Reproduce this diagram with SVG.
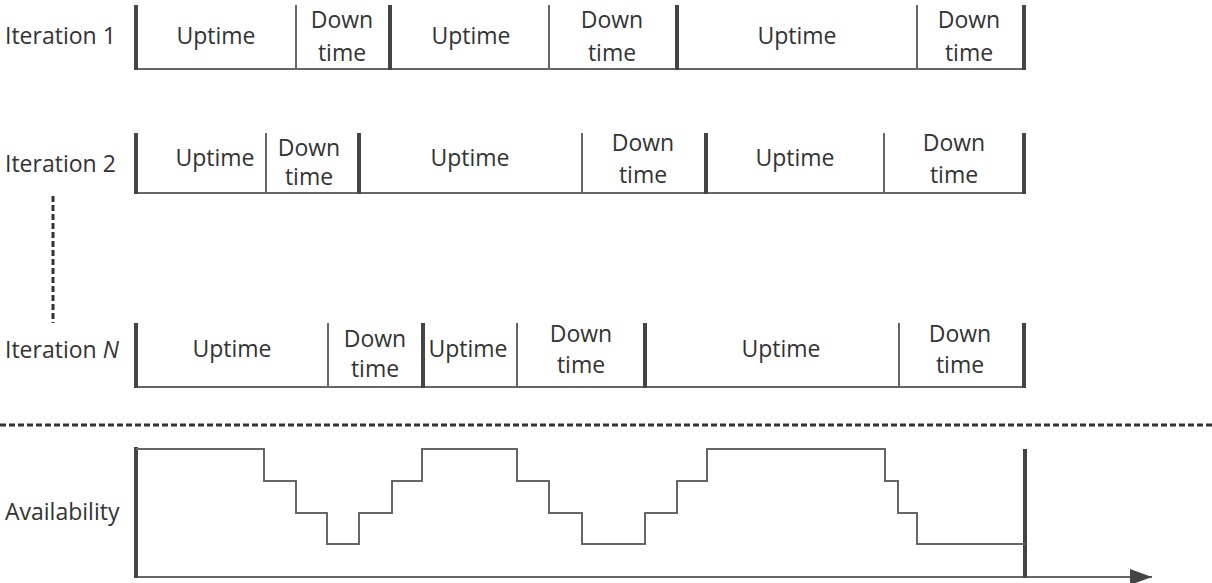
<svg xmlns="http://www.w3.org/2000/svg" width="1212" height="583" viewBox="0 0 1212 583">
  <style>
    text { font-family: "Open Sans", "Liberation Sans", sans-serif; font-size: 23px; fill: #333333; }
    .c { text-anchor: middle; }
    .thick { stroke: #444444; stroke-width: 4; fill: none; }
    .thin { stroke: #666666; stroke-width: 2; fill: none; }
    .dash { stroke: #333333; stroke-width: 3; stroke-dasharray: 6 3; fill: none; }
  </style>
  <defs>
    <marker id="arrow" markerWidth="22" markerHeight="16" refX="22" refY="8" orient="auto" markerUnits="userSpaceOnUse">
      <path d="M0,0 L22,8 L0,16 Z" fill="#444444"/>
    </marker>
  </defs>
  <rect width="1212" height="583" fill="#ffffff"/>

  <!-- Iteration 1 timeline -->
  <g id="iteration-1">
    <text x="5" y="44">Iteration 1</text>
    <line class="thin" x1="136" y1="69" x2="1025" y2="69"/>
    <line class="thick" x1="136" y1="5" x2="136" y2="70"/>
    <line class="thin" x1="296" y1="5" x2="296" y2="69"/>
    <line class="thick" x1="390" y1="5" x2="390" y2="70"/>
    <line class="thin" x1="549" y1="5" x2="549" y2="69"/>
    <line class="thick" x1="677" y1="5" x2="677" y2="70"/>
    <line class="thin" x1="917" y1="5" x2="917" y2="69"/>
    <line class="thick" x1="1024" y1="5" x2="1024" y2="70"/>
    <text class="c" x="216" y="44">Uptime</text>
    <text class="c" x="342" y="28">Down</text>
    <text class="c" x="342" y="61">time</text>
    <text class="c" x="471" y="44">Uptime</text>
    <text class="c" x="612" y="28">Down</text>
    <text class="c" x="612" y="61">time</text>
    <text class="c" x="797" y="44">Uptime</text>
    <text class="c" x="969" y="28">Down</text>
    <text class="c" x="969" y="61">time</text>
  </g>

  <!-- Iteration 2 timeline -->
  <g id="iteration-2">
    <text x="5" y="172">Iteration 2</text>
    <line class="thin" x1="136" y1="193" x2="1025" y2="193"/>
    <line class="thick" x1="136" y1="133" x2="136" y2="194"/>
    <line class="thin" x1="266" y1="133" x2="266" y2="193"/>
    <line class="thick" x1="359" y1="133" x2="359" y2="194"/>
    <line class="thin" x1="582" y1="133" x2="582" y2="193"/>
    <line class="thick" x1="706" y1="133" x2="706" y2="194"/>
    <line class="thin" x1="884" y1="133" x2="884" y2="193"/>
    <line class="thick" x1="1024" y1="133" x2="1024" y2="194"/>
    <text class="c" x="215" y="166">Uptime</text>
    <text class="c" x="309" y="156">Down</text>
    <text class="c" x="309" y="185">time</text>
    <text class="c" x="470" y="166">Uptime</text>
    <text class="c" x="643" y="151">Down</text>
    <text class="c" x="643" y="183">time</text>
    <text class="c" x="795" y="166">Uptime</text>
    <text class="c" x="954" y="151">Down</text>
    <text class="c" x="954" y="183">time</text>
  </g>

  <!-- Iteration N timeline -->
  <g id="iteration-n">
    <text x="5" y="358">Iteration <tspan font-style="italic">N</tspan></text>
    <line class="thin" x1="136" y1="387" x2="1025" y2="387"/>
    <line class="thick" x1="136" y1="323" x2="136" y2="388"/>
    <line class="thin" x1="328" y1="323" x2="328" y2="387"/>
    <line class="thick" x1="423" y1="323" x2="423" y2="388"/>
    <line class="thin" x1="517" y1="323" x2="517" y2="387"/>
    <line class="thick" x1="645" y1="323" x2="645" y2="388"/>
    <line class="thin" x1="899" y1="323" x2="899" y2="387"/>
    <line class="thick" x1="1024" y1="323" x2="1024" y2="388"/>
    <text class="c" x="232" y="357">Uptime</text>
    <text class="c" x="375" y="347">Down</text>
    <text class="c" x="375" y="377">time</text>
    <text class="c" x="468" y="357">Uptime</text>
    <text class="c" x="581" y="342">Down</text>
    <text class="c" x="581" y="373">time</text>
    <text class="c" x="781" y="357">Uptime</text>
    <text class="c" x="960" y="342">Down</text>
    <text class="c" x="960" y="373">time</text>
  </g>

  <!-- Separators -->
  <g id="connectors">
    <line class="dash" x1="53" y1="196" x2="53" y2="323"/>
    <line class="dash" x1="0" y1="425" x2="1212" y2="425"/>
  </g>

  <!-- Availability plot -->
  <g id="availability">
    <text x="5" y="520">Availability</text>
    <line class="thin" x1="136" y1="577" x2="1152" y2="577" marker-end="url(#arrow)"/>
    <line class="thick" x1="136" y1="447" x2="136" y2="578"/>
    <line class="thick" x1="1025" y1="449" x2="1025" y2="578"/>
    <path class="thin" d="M136,449 H264 V481 H296 V513 H327 V544 H359 V513 H392 V481 H422 V449 H517 V481 H549 V513 H582 V544 H645 V513 H677 V481 H707 V449 H885 V481 H898 V513 H917 V544 H1025"/>
  </g>
</svg>
